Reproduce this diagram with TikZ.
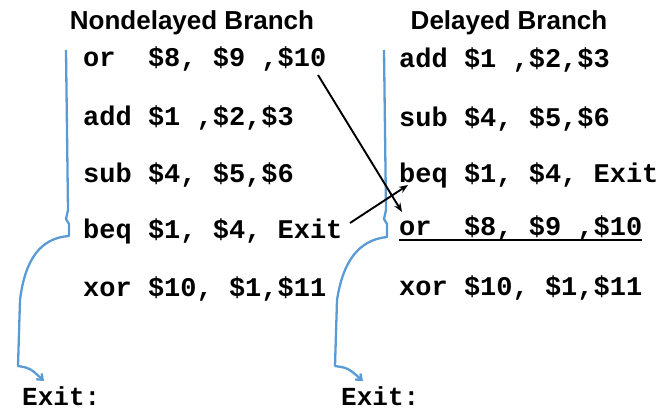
\documentclass[tikz,border=0pt]{standalone}
\usepackage{fontspec}
\setmainfont{Liberation Sans}
\newfontfamily\codefont{Liberation Mono}[BoldFont={Liberation Mono Bold}]
\usetikzlibrary{arrows.meta}
\definecolor{brblue}{RGB}{91,155,213}
\tikzset{
  x=1pt, y=-1pt,
  title/.style={font=\fontsize{26}{26}\selectfont\bfseries, inner sep=0pt, anchor=base},
  code/.style={font=\codefont\bfseries\fontsize{27}{27}\selectfont, inner sep=0pt, anchor=base west},
  exitlbl/.style={font=\codefont\bfseries\fontsize{26}{26}\selectfont, inner sep=0pt, anchor=base west},
  brace/.style={draw=brblue, line width=2.3pt, line join=round, -{Straight Barb[length=5pt,width=8pt]}},
  move/.style={draw=black, line width=1.9pt, -{Stealth[length=9pt,width=7pt]}}
}
\begin{document}
\begin{tikzpicture}
\useasboundingbox (0,0) rectangle (668,409);
\node[title] (t1) at (192,30) {Nondelayed Branch};
\node[title] (t2) at (509,30) {Delayed Branch};
% left column
\node[code] (l1) at (83,67) {or\ \ \$8,\ \$9\ ,\$10};
\node[code] (l2) at (83,125) {add\ \$1\ ,\$2,\$3};
\node[code] (l3) at (83,182) {sub\ \$4,\ \$5,\$6};
\node[code] (l4) at (83,238) {beq\ \$1,\ \$4,\ Exit};
\node[code] (l5) at (83,296) {xor\ \$10,\ \$1,\$11};
% right column
\node[code] (r1) at (399,68) {add\ \$1\ ,\$2,\$3};
\node[code] (r2) at (399,126) {sub\ \$4,\ \$5,\$6};
\node[code] (r3) at (399,182) {beq\ \$1,\ \$4,\ Exit};
\node[code] (r4) at (399,235) {or\ \ \$8,\ \$9\ ,\$10};
\node[code] (r5) at (399,295) {xor\ \$10,\ \$1,\$11};
\draw[line width=1.9pt] ([yshift=-5pt]r4.base west) -- ([yshift=-5pt]r4.base east);
% exit labels
\node[exitlbl] (e1) at (22,405) {Exit:};
\node[exitlbl] (e2) at (341,405) {Exit:};
% brace lines
\coordinate (b1) at (66,50);
\coordinate (b2) at (384,50);
\coordinate (be1) at (44,381);
\coordinate (be2) at (363,381);
\draw[brace] (b1) .. controls (67,130) .. (68,210) -- (66,219) -- (69,224) -- (69,236)
  .. controls (40,238) and (25,260) .. (20,300) -- (18,366) .. controls (30,368) .. (be1);
\draw[brace] (b2) .. controls (385,130) .. (386,210) -- (384,219) -- (387,224) -- (387,237)
  .. controls (358,240) and (343,262) .. (337,300) -- (335,366) .. controls (348,368) .. (be2);
% moves
\coordinate (m1) at (318,75);
\coordinate (m1e) at (402,212);
\coordinate (m2) at (350,223);
\coordinate (m2e) at (408,185);
\draw[move] (m1) -- (m1e);
\draw[move] (m2) -- (m2e);
\end{tikzpicture}
\end{document}
